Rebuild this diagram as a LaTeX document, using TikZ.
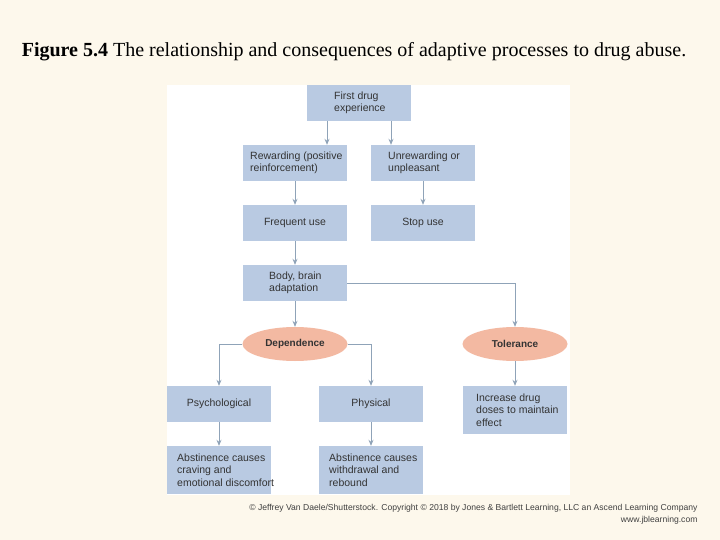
\documentclass[tikz,border=0pt]{standalone}
\usepackage{fontspec}
\setmainfont{Liberation Serif}
\newfontfamily\arial{Liberation Sans}
\usetikzlibrary{shapes.geometric,arrows.meta}
\definecolor{bg}{HTML}{FDF8EC}
\definecolor{boxc}{HTML}{B9CAE2}
\definecolor{ell}{HTML}{F3B9A2}
\definecolor{arr}{HTML}{8FA3B8}
\begin{document}
\begin{tikzpicture}[x=1pt,y=-1pt,
  box/.style={fill=boxc,draw=none,minimum width=104pt,inner sep=0pt,font=\arial\fontsize{10.5}{12.5}\selectfont,text=black!80},
  txt/.style={anchor=west,inner sep=0pt,align=left,font=\arial\fontsize{10.5}{12.5}\selectfont,text=black!80},
  el/.style={ellipse,fill=ell,minimum width=105pt,minimum height=34pt,inner sep=0pt,font=\arial\bfseries\fontsize{10}{12}\selectfont,text=black!80},
  ar/.style={draw=arr,line width=0.9pt,-{Stealth[length=6pt,width=5pt]}}]
\fill[bg] (0,0) rectangle (720,540);
\useasboundingbox (0,0) rectangle (720,540);
\fill[white] (167,85) rectangle (570,495);
\node[font=\fontsize{20}{23}\selectfont] (title) at (354,52) {\textbf{Figure 5.4} The relationship and consequences of adaptive processes to drug abuse.};
\node[box,minimum height=36pt] (first) at (359,103) {};
\node[txt] (firstt) at (334,103) {First drug\\experience};
\node[box,minimum height=36pt] (rew) at (295,163) {};
\node[txt] (rewt) at (250,163) {Rewarding (positive\\reinforcement)};
\node[box,minimum height=36pt] (unrew) at (423,163) {};
\node[txt] (unrewt) at (388,163) {Unrewarding or\\unpleasant};
\node[box,minimum height=36pt] (freq) at (295,223) {Frequent use};
\node[box,minimum height=36pt] (stop) at (423,223) {Stop use};
\node[box,minimum height=36pt] (body) at (295,283) {};
\node[txt] (bodyt) at (269,283) {Body, brain\\adaptation};
\node[el] (dep) at (295,344) {Dependence};
\node[el] (tol) at (515,344) {Tolerance};
\node[box,minimum height=36pt] (psy) at (219,404) {Psychological};
\node[box,minimum height=36pt] (phy) at (371,404) {Physical};
\node[box,minimum height=48pt] (inc) at (515,410) {};
\node[txt] (inct) at (476,410) {Increase drug\\doses to maintain\\effect};
\node[box,minimum height=48pt] (ab1) at (219,470) {};
\node[txt] (ab1t) at (177,470) {Abstinence causes\\craving and\\emotional discomfort};
\node[box,minimum height=48pt] (ab2) at (371,470) {};
\node[txt] (ab2t) at (329,470) {Abstinence causes\\withdrawal and\\rebound};
\draw[ar] (first.south -| 327,0) -- (rew.north -| 327,0);
\draw[ar] (first.south -| 391,0) -- (unrew.north -| 391,0);
\draw[ar] (rew) -- (freq);
\draw[ar] (unrew) -- (stop);
\draw[ar] (freq) -- (body);
\draw[ar] (body) -- (dep);
\draw[ar] (body.east) -| (tol.north);
\draw[ar] (dep.west) -| (psy.north);
\draw[ar] (dep.east) -| (phy.north);
\draw[ar] (tol) -- (inc);
\draw[ar] (psy) -- (ab1);
\draw[ar] (phy) -- (ab2);
\node[anchor=east,font=\arial\fontsize{8.6}{9}\selectfont,text=black!75] (copy) at (701,508) {© Jeffrey Van Daele/Shutterstock. Copyright © 2018 by Jones \& Bartlett Learning, LLC an Ascend Learning Company};
\node[anchor=east,font=\arial\fontsize{8.6}{9}\selectfont,text=black!75] (www) at (701,520) {www.jblearning.com};
\end{tikzpicture}
\end{document}
